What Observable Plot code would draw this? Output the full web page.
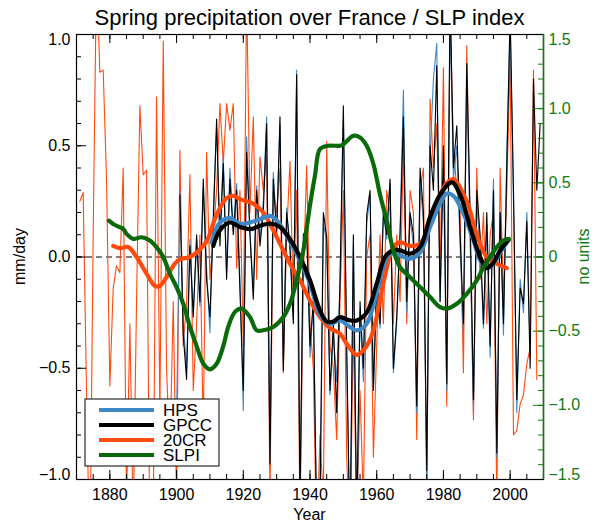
<!DOCTYPE html>
<html>
<head>
<meta charset="utf-8">
<script src="https://cdn.jsdelivr.net/npm/d3@7"></script>
<script src="https://cdn.jsdelivr.net/npm/@observablehq/plot@0.6"></script>
<style>
  body { margin: 0; background: #fff; }
  #chart { width: 596px; height: 526px; }
  #chart text { font-family: "Liberation Sans", Arial, Helvetica, sans-serif; }
</style>
</head>
<body>
<div id="chart"></div>
<script>
// ---- Yearly spring precipitation anomalies (mm/day) ----
const cr20Start = 1871;
const cr20Values = [
  0.25, 0.29, -0.6, -1.4, 0.1, 1.3, 0.83, 0.84, 0.35,
  -0.58, -0.14, -0.04, -0.07, 0.40, -1.1, -0.3, -1.2, -0.2, 0.68,
  0.37, 0.39, -1.3, -1.2, 0.72, -0.70, 0.97, -0.5, -0.9, -0.2,
  -1.1, 0.48, -0.4, -0.2, 0.37, -0.6, -0.3, 0.1, -0.8, 0.47,
  -0.1, 0.1, 0.3, 0.69, 0.42, 0.69, 0.57, 0.69, -0.05, 0.3,
  -0.4, 1.2, 0.2, 0.63, -0.1, 0.45, 0.3, 0.45, -1.1, 0.3,
  0.2, 0.4, -0.52, 0.1, 0.43, -0.2, 0.3, -1.2, -0.1, 0.41,
  -0.3, -0.5, -1.3, -0.8, -1.1, 0.52, -0.4, -0.5, -0.82, -0.2,
  0.3, -0.9, -1.3, -0.3, -1.2, -0.6, -1.1, 0.0, 0.1, -0.9,
  -0.4, 0.1, -0.3, 0.3, 0.2, -0.3, 0.1, -0.2, 0.5, -0.3,
  0.3, 0.2, -0.82, 0.3, 0.4, -1.1, 0.71, 0.4, 0.6, -0.1,
  0.85, -0.67, 1.1, 0.5, 0.3, 0.2, -0.52, 0.95, 0.1, -0.73,
  0.4, -0.1, 0.2, -0.3, 0.1, 0.2, -1.1, 0.4, -0.2, 0.3,
  0.9, -0.80, -0.78, -0.66, -0.62, -0.48, -0.41, 0.84, -0.55
];

const hpsStart = 1900;
const hpsValues = [
  -0.72, 0.30, -0.3, -0.5, 0.08, -0.25, 0.05, -0.22, 0.3, -0.05,
  -0.34, 0.2, 0.58, 0.1, 0.45, -0.07, 0.4, 0.12, 0.33, -0.1,
  -0.69, 0.54, 0.12, -0.15, 0.32, 0.08, 0.25, 0.63, -0.9, 0.38,
  0.12, 0.6, -0.48, 0.22, 0.03, -0.28, 0.84, -1.1, 0.05, 0.13,
  -0.45, -0.2, -1.2, -1.15, 0.15, 0.07, -0.62, -0.35, -0.56, -0.12,
  0.62, -0.45, -1.3, 0.05, -1.25, -0.25, -0.56, 0.15, 0.28, -0.6,
  -0.15, -0.32, 0.2, 0.08, 0.33, -0.52, -0.3, 0.12, 0.75, -0.25,
  0.18, 0.05, -0.7, 0.35, 0.15, -1.0, 0.45, 0.8, 0.96, -0.2,
  0.4, -0.6, 1.1, 0.35, 0.5, 0.05, -0.35, 0.8, 0.1, -0.7,
  0.25, 0.05, -0.32, 0.15, -0.45, 0.35, -0.9, 0.2, -0.35, 0.47,
  1.05, 0.25, -0.7, -0.1, -0.25, 0.2, -0.45
];

const gpccStart = 1901;
const gpccValues = [
  0.28, -0.35, -0.55, 0.05, -0.27, 0.1, -0.2, 0.35, -0.1,
  -0.27, 0.15, 0.62, 0.05, 0.42, -0.1, 0.35, 0.1, 0.3, -0.15,
  -0.6, 0.47, 0.1, -0.19, 0.3, 0.05, 0.2, 0.6, -0.93, 0.35,
  0.1, 0.63, -0.51, 0.2, 0.05, -0.3, 0.82, -1.1, 0.1, 0.13,
  -0.4, -0.2, -1.2, -1.1, 0.2, 0.09, -0.6, -0.3, -0.7, -0.1,
  0.68, -0.4, -1.3, 0.1, -1.2, -0.2, -0.5, 0.19, 0.30, -0.6,
  -0.1, -0.3, 0.2, 0.1, 0.35, -0.5, -0.27, 0.1, 0.63, -0.2,
  0.2, 0.1, -0.67, 0.4, 0.2, -0.96, 0.5, 0.3, 0.86, -0.2,
  0.5, -0.57, 1.2, 0.4, 0.59, 0.1, -0.3, 0.87, 0.2, -0.64,
  0.3, 0.1, -0.3, 0.2, -0.4, 0.3, -0.88, 0.2, -0.3, 0.41,
  1.1, 0.3, -0.64, -0.14, -0.21, 0.16, -0.5, 0.80, 0.3, 0.6
];

// ---- Low-pass filtered curves: [year, value] ----
const smooth20CR = [
  [1881, 0.05], [1883, 0.04], [1885.5, 0.045], [1888, 0.0], [1891, -0.075],
  [1893.5, -0.13], [1895, -0.13], [1897, -0.09], [1899.5, -0.03], [1901, -0.01],
  [1904, 0.0], [1906, 0.02], [1909, 0.07], [1912, 0.19], [1915, 0.265],
  [1917, 0.275], [1919, 0.26], [1923, 0.24], [1926, 0.2], [1928, 0.15],
  [1931, 0.06], [1934, -0.03], [1937, -0.105], [1940, -0.195], [1943, -0.27],
  [1946, -0.32], [1949, -0.345], [1951, -0.39], [1954, -0.44], [1957, -0.40],
  [1959, -0.33], [1961, -0.19], [1963, -0.05], [1965, 0.045], [1967, 0.066],
  [1970, 0.05], [1973, 0.06], [1976, 0.15], [1979, 0.28], [1981.5, 0.34],
  [1983, 0.35], [1987, 0.25], [1990, 0.10], [1993, 0.0], [1996, -0.03], [1999, -0.05]
];

const smoothHPS = [
  [1910.5, 0.065], [1913, 0.155], [1916, 0.175], [1919, 0.15], [1922, 0.155],
  [1925, 0.17], [1928, 0.185], [1930, 0.165], [1934, 0.07], [1937, -0.015],
  [1940, -0.12], [1943, -0.26], [1946, -0.3], [1949, -0.285], [1952, -0.315],
  [1954, -0.33], [1957, -0.3], [1960, -0.16], [1962.5, -0.02], [1964, 0.015],
  [1967, 0.007], [1970, -0.008], [1973, 0.02], [1976, 0.135], [1979, 0.24],
  [1981, 0.285], [1983, 0.275], [1986, 0.195], [1989, 0.075], [1991, -0.015],
  [1993, -0.05], [1995, -0.03], [1997, 0.02], [1999.5, 0.075]
];

const smoothGPCC = [
  [1911, 0.05], [1913, 0.12], [1916, 0.155], [1919, 0.135], [1922, 0.125],
  [1925, 0.14], [1928, 0.15], [1931, 0.135], [1934, 0.08], [1937, 0.0],
  [1940, -0.105], [1943, -0.24], [1945, -0.29], [1947, -0.29], [1949, -0.27],
  [1952, -0.285], [1954, -0.285], [1957, -0.25], [1960, -0.12], [1962.5, 0.0],
  [1965, 0.03], [1967, 0.03], [1970, 0.015], [1973, 0.045], [1976, 0.18],
  [1979, 0.28], [1982.5, 0.335], [1985, 0.28], [1988, 0.135], [1991, 0.0],
  [1993, -0.05], [1995, -0.025], [1997, 0.03], [1999.5, 0.077]
];

// Sea-level-pressure index, in its own units (right axis)
const smoothSLPI = [
  [1879.7, 0.245], [1881, 0.223], [1883, 0.2], [1884, 0.19], [1885, 0.156],
  [1887, 0.122], [1889.5, 0.133], [1892, 0.111], [1894, 0.066], [1896, 0.0],
  [1898, -0.113], [1900, -0.203], [1902, -0.315], [1904, -0.47], [1906, -0.6],
  [1908, -0.718], [1910, -0.757], [1912, -0.72], [1914, -0.6], [1915.5, -0.47],
  [1917.5, -0.37], [1919.5, -0.348], [1922, -0.405], [1924, -0.494], [1926, -0.494],
  [1929, -0.472], [1932, -0.405], [1934, -0.315], [1936, -0.158], [1938, 0.044],
  [1940, 0.35], [1941.5, 0.55], [1943, 0.728], [1945.5, 0.75], [1949, 0.75],
  [1950, 0.761], [1953, 0.817], [1955, 0.806], [1957, 0.75], [1959, 0.627],
  [1961, 0.42], [1963, 0.245], [1965, 0.044], [1967, -0.069], [1970, -0.136],
  [1973, -0.203], [1976, -0.27], [1979, -0.338], [1981, -0.348], [1984, -0.315],
  [1987, -0.248], [1990, -0.158], [1992, -0.069], [1994, 0.0], [1996, 0.066],
  [1998, 0.111], [1999.6, 0.122]
];

// ---- Axis ticks ----
const yearLabels = [1880, 1900, 1920, 1940, 1960, 1980, 2000];
const yearMinor = d3.range(1875, 2010, 5);
const leftLabels = [-1, -0.5, 0, 0.5, 1];
const leftMinor = d3.range(-9, 10).map(i => i / 10);
const leftMajor = [-0.5, 0, 0.5];
const rightLabels = [-1.5, -1, -0.5, 0, 0.5, 1, 1.5];
const rightMinor = d3.range(-14, 15).map(i => i / 10);
const rightMajor = [-1, -0.5, 0, 0.5, 1];
const rightScale = 1.5; // right-axis units per mm/day

const legendItems = [
  {label: "HPS", color: "#3f88c6"},
  {label: "GPCC", color: "#000000"},
  {label: "20CR", color: "#ff4a0c"},
  {label: "SLPI", color: "#0a6a0a"}
];

const titleText = "Spring precipitation over France / SLP index";

// ---- Layout ----
const W = 596, H = 526;
const M = {top: 34, right: 53, bottom: 47, left: 76};
const fw = W - M.left - M.right;
const fh = H - M.top - M.bottom;
const [blue, black, orange, green] = legendItems.map(d => d.color);
const axisGreen = "#0f7a0f";

const series = (start, values) => values.map((value, i) => ({year: start + i, value}));
const pairs = arr => arr.map(([year, value]) => ({year, value}));
const fmt1 = d3.format(".1f");
const rightFmt = v => Math.abs(v) < 1e-9 ? "0" : fmt1(v);
const font = "'Liberation Sans', Arial, Helvetica, sans-serif";

const chart = Plot.plot({
  width: W,
  height: H,
  marginTop: M.top,
  marginRight: M.right,
  marginBottom: M.bottom,
  marginLeft: M.left,
  x: {domain: [1870, 2010]},
  y: {domain: [-1, 1]},
  style: {fontFamily: font, fontSize: "16px", background: "white", overflow: "visible"},
  marks: [
    Plot.ruleY([0], {stroke: "black", strokeWidth: 1, strokeDasharray: "6,4"}),

    // yearly series
    Plot.lineY(series(cr20Start, cr20Values), {x: "year", y: "value", stroke: orange, strokeWidth: 1.1, clip: true}),
    Plot.lineY(series(hpsStart, hpsValues), {x: "year", y: "value", stroke: blue, strokeWidth: 1.1, clip: true}),
    Plot.lineY(series(gpccStart, gpccValues), {x: "year", y: "value", stroke: black, strokeWidth: 1.1, clip: true}),

    // filtered series
    Plot.line(pairs(smooth20CR), {x: "year", y: "value", stroke: orange, strokeWidth: 4.2, curve: "catmull-rom", clip: true}),
    Plot.line(pairs(smoothHPS), {x: "year", y: "value", stroke: blue, strokeWidth: 4.2, curve: "catmull-rom", clip: true}),
    Plot.line(pairs(smoothGPCC), {x: "year", y: "value", stroke: black, strokeWidth: 4.2, curve: "catmull-rom", clip: true}),
    Plot.line(pairs(smoothSLPI), {x: "year", y: d => d.value / rightScale, stroke: green, strokeWidth: 4.2, curve: "catmull-rom", clip: true}),

    // frame: black with a green right-hand axis line
    Plot.frame({stroke: "black", strokeWidth: 1.2}),
    Plot.ruleX([2010], {stroke: axisGreen, strokeWidth: 1.5}),

    // inward ticks
    Plot.tickY(leftMinor, {y: d => d, stroke: "black", insetRight: fw - 5}),
    Plot.tickY(leftMajor, {y: d => d, stroke: "black", insetRight: fw - 10}),
    Plot.tickY(rightMinor.map(v => v / rightScale), {y: d => d, stroke: axisGreen, insetLeft: fw - 5}),
    Plot.tickY(rightMajor.map(v => v / rightScale), {y: d => d, stroke: axisGreen, insetLeft: fw - 10}),
    Plot.tickX(yearMinor, {x: d => d, stroke: "black", insetTop: fh - 5}),
    Plot.tickX(yearLabels, {x: d => d, stroke: "black", insetTop: fh - 9}),
    Plot.tickX(yearMinor, {x: d => d, stroke: "black", insetBottom: fh - 5}),
    Plot.tickX(yearLabels, {x: d => d, stroke: "black", insetBottom: fh - 9}),

    // tick labels
    Plot.axisY(leftLabels.filter(v => Math.abs(v) < 1), {anchor: "left", tickSize: 0, tickPadding: 6, tickFormat: fmt1, fontSize: 16, label: null}),
    Plot.axisY([1], {anchor: "left", tickSize: 0, tickPadding: 6, tickFormat: fmt1, fontSize: 16, dy: 5, label: null}),
    Plot.axisY([-1], {anchor: "left", tickSize: 0, tickPadding: 6, tickFormat: fmt1, fontSize: 16, dy: -5, label: null}),
    Plot.axisY(rightLabels.filter(v => Math.abs(v) < 1.5).map(v => v / rightScale), {anchor: "right", tickSize: 0, tickPadding: 5, tickFormat: d => rightFmt(d * rightScale), fill: axisGreen, fontSize: 16, label: null}),
    Plot.axisY([1], {anchor: "right", tickSize: 0, tickPadding: 5, tickFormat: d => rightFmt(d * rightScale), fill: axisGreen, fontSize: 16, dy: 5, label: null}),
    Plot.axisY([-1], {anchor: "right", tickSize: 0, tickPadding: 5, tickFormat: d => rightFmt(d * rightScale), fill: axisGreen, fontSize: 16, dy: -5, label: null}),
    Plot.axisX(yearLabels, {anchor: "bottom", tickSize: 0, tickPadding: 9, tickFormat: d => String(d), fontSize: 16, label: null})
  ]
});

document.getElementById("chart").appendChild(chart);

// ---- Titles and legend ----
const svg = d3.select(chart);
const cx = M.left + fw / 2;

svg.append("text")
  .attr("x", cx).attr("y", 25)
  .attr("text-anchor", "middle")
  .attr("font-family", font).attr("font-size", 22).attr("fill", "black")
  .text(titleText);

svg.append("text")
  .attr("x", cx).attr("y", 520)
  .attr("text-anchor", "middle")
  .attr("font-family", font).attr("font-size", 16).attr("fill", "black")
  .text("Year");

svg.append("text")
  .attr("transform", `translate(25,${M.top + fh / 2}) rotate(-90)`)
  .attr("text-anchor", "middle")
  .attr("font-family", font).attr("font-size", 16).attr("fill", "black")
  .text("mm/day");

svg.append("text")
  .attr("transform", `translate(589,${M.top + fh / 2}) rotate(-90)`)
  .attr("text-anchor", "middle")
  .attr("font-family", font).attr("font-size", 16).attr("fill", axisGreen)
  .text("no units");

const legend = svg.append("g").attr("transform", "translate(85,399)");
legend.append("rect")
  .attr("width", 134).attr("height", 67)
  .attr("fill", "white").attr("stroke", "black").attr("stroke-width", 1);
legendItems.forEach((d, i) => {
  const y = 11 + i * 15;
  legend.append("line")
    .attr("x1", 14).attr("x2", 69).attr("y1", y).attr("y2", y)
    .attr("stroke", d.color).attr("stroke-width", 4.2);
  legend.append("text")
    .attr("x", 78).attr("y", y + 5.5)
    .attr("text-anchor", "start")
    .attr("font-family", font).attr("font-size", 17).attr("fill", "black")
    .text(d.label);
});
</script>
</body>
</html>
